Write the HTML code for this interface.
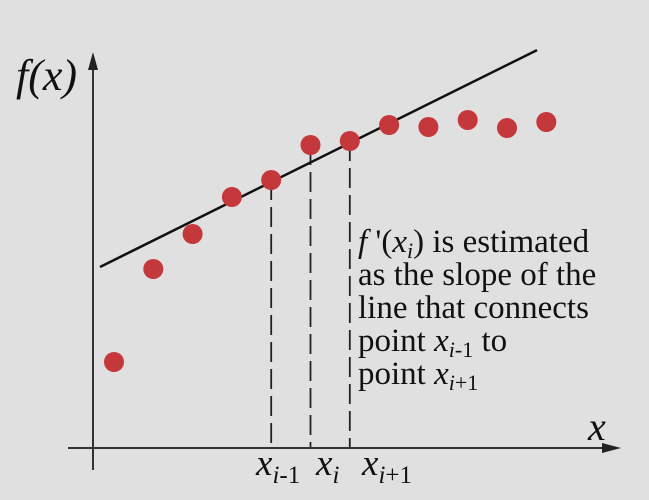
<!DOCTYPE html>
<html><head><meta charset="utf-8"><style>
html,body{margin:0;padding:0;background:#e0e0e0;}
svg{display:block;font-family:"Liberation Serif",serif;}
</style></head><body>
<svg id="chart" width="649" height="500" viewBox="0 0 649 500">
<rect width="649" height="500" fill="#e0e0e0"/>
<g id="dashes"></g>
<line x1="93" y1="470" x2="93" y2="62" stroke="#333" stroke-width="2"/>
<polygon points="93,52 88,70 98,70" fill="#222"/>
<line x1="68" y1="448" x2="610" y2="448" stroke="#333" stroke-width="2"/>
<polygon points="621,448 602,443 602,453" fill="#222"/>
<text x="16" y="90" font-size="44" font-style="italic" fill="#111">f(x)</text>
<text x="588" y="440" font-size="40" font-style="italic" fill="#111">x</text>
<g id="marks"></g>
<g font-size="37" fill="#111">
<text x="256" y="475"><tspan font-style="italic">x</tspan><tspan font-size="25" dy="8"><tspan font-style="italic">i</tspan>-1</tspan></text>
<text x="316" y="475"><tspan font-style="italic">x</tspan><tspan font-size="25" dy="8" font-style="italic">i</tspan></text>
<text x="362" y="475"><tspan font-style="italic">x</tspan><tspan font-size="25" dy="8"><tspan font-style="italic">i</tspan>+1</tspan></text>
</g>
<g font-size="33" fill="#111">
<text x="358" y="252"><tspan font-style="italic">f</tspan> '(<tspan font-style="italic">x</tspan><tspan font-size="22" dy="6" font-style="italic">i</tspan><tspan dy="-6">) is estimated</tspan></text>
<text x="358" y="285">as the slope of the</text>
<text x="358" y="318">line that connects</text>
<text x="358" y="351">point <tspan font-style="italic">x</tspan><tspan font-size="22" dy="6"><tspan font-style="italic">i</tspan>-1</tspan><tspan dy="-6"> to</tspan></text>
<text x="358" y="384">point <tspan font-style="italic">x</tspan><tspan font-size="22" dy="6"><tspan font-style="italic">i</tspan>+1</tspan></text>
</g>
</svg>
<script>
const indices = [0,1,2,3,4,5,6,7,8,9,10,11];
const values = [85,178,213,250,267,302,306,322,320,327,319,325];
const focusIndex = 5;
const ns = "http://www.w3.org/2000/svg";
function xScale(i){ return 114 + i*39.3; }
function yScale(v){ return 447 - v; }
const marks = document.getElementById('marks');
const dashes = document.getElementById('dashes');
const a = focusIndex-1, b = focusIndex+1;
const x1 = xScale(a), y1 = yScale(values[a]), x2 = xScale(b), y2 = yScale(values[b]);
const slope = (y2-y1)/(x2-x1);
const line = document.createElementNS(ns,'line');


line.setAttribute('x1', 100); line.setAttribute('y1', y1 + slope*(100-x1)+2);
line.setAttribute('x2', 537); line.setAttribute('y2', y1 + slope*(537-x1)+2);
line.setAttribute('stroke', '#111'); line.setAttribute('stroke-width', '2.5');
marks.appendChild(line);
[a, focusIndex, b].forEach(function(i){
  const d = document.createElementNS(ns,'line');
  
  
  d.setAttribute('x1', xScale(i)); d.setAttribute('x2', xScale(i));
  d.setAttribute('y1', yScale(values[i])); d.setAttribute('y2', 448);
  d.setAttribute('stroke', '#222'); d.setAttribute('stroke-width', '1.8');
  d.setAttribute('stroke-dasharray', '20 7');
  dashes.appendChild(d);
});
indices.forEach(function(i){
  const c = document.createElementNS(ns,'circle');
  
  
  c.setAttribute('cx', xScale(i)); c.setAttribute('cy', yScale(values[i]));
  c.setAttribute('r', 10); c.setAttribute('fill', '#c4373a');
  marks.appendChild(c);
});
</script>
</body></html>
